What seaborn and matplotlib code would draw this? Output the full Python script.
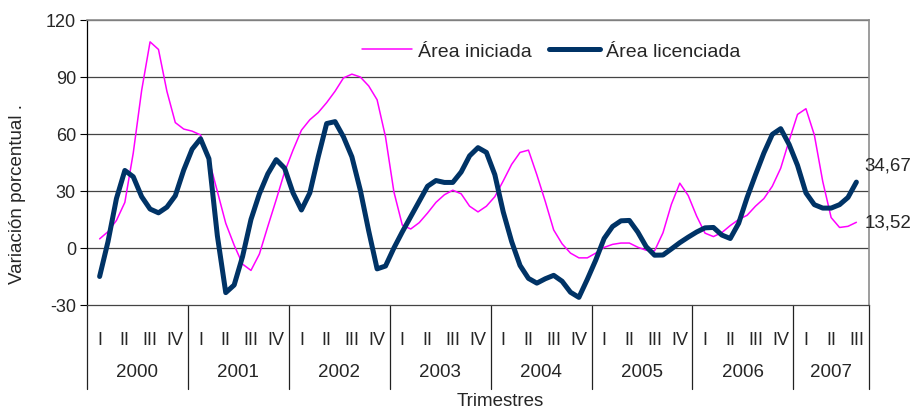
import numpy as np
import pandas as pd
import matplotlib
matplotlib.use("Agg")
import matplotlib.pyplot as plt
import matplotlib.transforms as mtransforms
import seaborn as sns

# monthly readings, Jan-2000 .. Sep-2007 (variación % anual)
iniciada = [
    4.8, 8.6, 14.5, 24, 50, 83, 108.5, 104.5, 82.5, 66,
    62.6, 61.5, 59.5, 46.5, 29.8, 13, 1.5, -8.5, -11.8, -3.2,
    11.3, 25.4, 40, 51.5, 62, 67.5, 71.3, 76.5, 82.5, 89.5,
    91.5, 90, 85.3, 78, 58.5, 29.5, 12, 10, 13.3, 18.4,
    24, 28, 30.4, 28.5, 22, 19, 22, 27, 35.3, 44,
    50.3, 51.5, 38.5, 24.5, 9.5, 2.2, -2.7, -5.2, -5.2, -2.7,
    0.3, 1.9, 2.6, 2.6, 0.4, -1.2, -1.5, 8, 23, 34.1,
    27.6, 16.8, 7.8, 6, 8.1, 11.8, 15, 17.2, 22, 26,
    32.5, 42, 56.5, 70.3, 73.3, 59.5, 35, 16, 10.8, 11.4, 13.52,
]
licenciada = [
    -15, 3.4, 26, 40.8, 37.5, 27, 20.5, 18.5, 21.5, 27.5,
    41, 52, 57.5, 47, 6.5, -23.5, -19.5, -4.5, 15, 28.5,
    39, 46.5, 42, 29, 20, 29, 48, 65.5, 66.5, 58.5,
    48, 30.5, 9, -11, -9.5, 0, 8.5, 16.5, 24.5, 32.5,
    35.5, 34.5, 34.5, 40, 48.5, 52.8, 50.3, 38.6, 19, 3.4,
    -9.2, -16, -18.5, -16.2, -14.4, -17.5, -23.3, -26, -16.5, -6.4,
    5, 11.3, 14.3, 14.5, 8.4, 0.7, -3.8, -3.7, -0.5, 2.8,
    5.7, 8.4, 10.6, 10.8, 6.8, 5, 13, 26.5, 38.5, 50,
    59.8, 62.8, 54.5, 43.5, 29, 22.8, 21, 21, 22.8, 26.6, 34.67,
]
years = ["2000", "2001", "2002", "2003", "2004", "2005", "2006", "2007"]
quarters_per_year = [4, 4, 4, 4, 4, 4, 4, 3]
quarter_names = ["I", "II", "III", "IV"]
yticks = [-30, 0, 30, 60, 90, 120]

sns.set_theme(style="white")
plt.rcParams["font.family"] = ["Liberation Sans", "DejaVu Sans"]

# x position in quarter units (quarter centre = integer)
pos = np.arange(len(iniciada)) / 3.0
df = pd.DataFrame({"pos": pos, "iniciada": iniciada, "licenciada": licenciada})

fig = plt.figure(figsize=(9.13, 4.10), dpi=100)
ax = fig.add_axes([0.0953, 0.2537, 0.8565, 0.6951])

sns.lineplot(data=df, x="pos", y="iniciada", ax=ax, color="#FF00FF",
             linewidth=1.1, label="Área iniciada")
sns.lineplot(data=df, x="pos", y="licenciada", ax=ax, color="#003366",
             linewidth=3.6, label="Área licenciada",
             solid_joinstyle="round", solid_capstyle="round")

n_q = sum(quarters_per_year)
ax.set_xlim(-0.5, n_q - 0.5)
ax.set_ylim(-30, 120)
ax.set_yticks(yticks)
ax.set_yticklabels([str(v) for v in yticks], fontsize=13)
ax.tick_params(axis="y", length=5, width=0.8, color="black", direction="out", pad=3, left=True)

for v in yticks[1:]:
    ax.axhline(v, color="#444444", linewidth=0.9, zorder=0)

for side in ["top", "right"]:
    ax.spines[side].set_color("#8c8c8c")
    ax.spines[side].set_linewidth(1.2)
ax.spines["left"].set_color("black")
ax.spines["left"].set_linewidth(0.9)
ax.spines["bottom"].set_color("#444444")
ax.spines["bottom"].set_linewidth(0.9)

# quarter labels
qlabels = [quarter_names[i] for n in quarters_per_year for i in range(n)]
ax.set_xticks(range(n_q))
ax.set_xticklabels(qlabels, fontsize=13)
ax.tick_params(axis="x", length=0, pad=19)

# year labels and separators
trans = mtransforms.blended_transform_factory(ax.transData, ax.transAxes)
start = -0.5
bounds = [start]
for y, n in zip(years, quarters_per_year):
    ax.text(start + n / 2, -0.235, y, transform=trans, ha="center", va="center",
            fontsize=13.5)
    start += n
    bounds.append(start)
for b in bounds:
    ax.plot([b, b], [0, -0.295], transform=trans, color="#222222",
            linewidth=0.9, clip_on=False)

ax.set_xlabel("")
ax.text(0.529, -0.335, "Trimestres", transform=ax.transAxes, ha="center", va="center",
        fontsize=13.5)
ax.set_ylabel("Variación porcentual .", fontsize=13.5)
ax.yaxis.set_label_coords(-0.078, 0.393)

# end-value labels
ax.annotate("34,67", (pos[-1], licenciada[-1]), xytext=(6, 12), textcoords="offset points",
            ha="left", va="center", fontsize=13.5)
ax.annotate("13,52", (pos[-1], iniciada[-1]), xytext=(6, 0), textcoords="offset points",
            ha="left", va="center", fontsize=13.5)

ax.legend(loc="center", bbox_to_anchor=(0.593, 0.891), ncol=2, frameon=False,
          fontsize=14, handlelength=2.6, handletextpad=0.3, columnspacing=0.9)

fig.savefig("out.png", dpi=100)
